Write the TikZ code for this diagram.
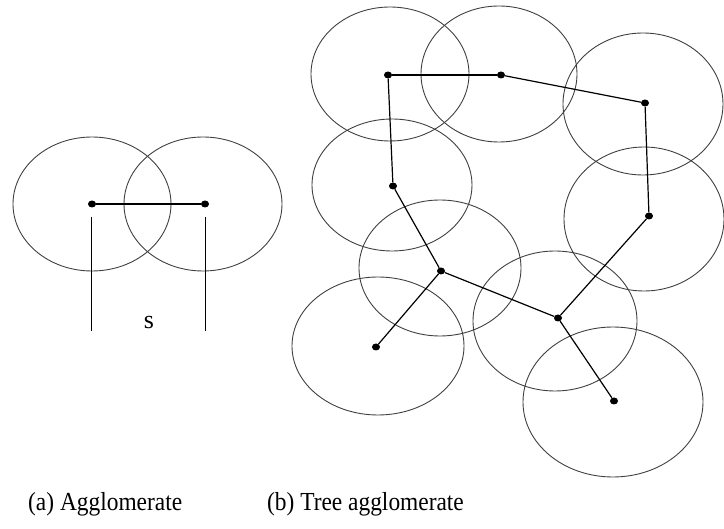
\documentclass[tikz,border=0pt]{standalone}
\usepackage{fontspec}
\usetikzlibrary{shapes.geometric}
\setmainfont{Liberation Serif}
\begin{document}
\begin{tikzpicture}[x=1pt,y=-1pt,
  circ/.style={draw=black!75,line width=0.9pt},
  edge/.style={draw=black,line width=1.2pt},
  dot/.style={ellipse,fill=black,inner sep=0pt,minimum width=8pt,minimum height=7pt},
  captext/.style={font=\fontsize{26}{30}\selectfont\addfontfeature{FakeStretch=0.9},inner sep=0pt}]
\useasboundingbox (0,0) rectangle (724,529);
% (a) Agglomerate
\draw[circ] (92,204) ellipse [x radius=79,y radius=67];
\draw[circ] (203,204) ellipse [x radius=79,y radius=67];
\node[dot] (l1) at (92,204) {};
\node[dot] (l2) at (205,204) {};
\draw[edge] (l1) -- (l2);
\coordinate (v1t) at (91,217); \coordinate (v1b) at (91,331);
\coordinate (v2t) at (205,217); \coordinate (v2b) at (205,331);
\draw[edge,line width=1pt] (v1t) -- (v1b);
\draw[edge,line width=1pt] (v2t) -- (v2b);
\node[font=\fontsize{26}{30}\selectfont,inner sep=0pt] (s) at (149,323) {s};
% (b) Tree agglomerate
\draw[circ] (390,74) ellipse [x radius=79,y radius=67];
\draw[circ] (499,74) ellipse [x radius=78,y radius=68];
\draw[circ] (643,104) ellipse [x radius=80,y radius=71];
\draw[circ] (392,185) ellipse [x radius=80,y radius=66];
\draw[circ] (644,219) ellipse [x radius=80,y radius=72];
\draw[circ] (440,268) ellipse [x radius=81,y radius=68];
\draw[circ] (378,346) ellipse [x radius=86,y radius=69];
\draw[circ] (555,321) ellipse [x radius=82,y radius=70];
\draw[circ] (613,402) ellipse [x radius=90,y radius=75];
\node[dot] (A) at (388,75) {};
\node[dot] (B) at (501,75) {};
\node[dot] (C) at (645,103) {};
\node[dot] (D) at (393,186) {};
\node[dot] (E) at (649,216) {};
\node[dot] (F) at (441,271) {};
\node[dot] (G) at (376,347) {};
\node[dot] (H) at (558,318) {};
\node[dot] (I) at (614,401) {};
\draw[edge] (A) -- (B);
\draw[edge] (B) -- (C);
\draw[edge] (C) -- (E);
\draw[edge] (A) -- (D);
\draw[edge] (D) -- (F);
\draw[edge] (F) -- (G);
\draw[edge] (F) -- (H);
\draw[edge] (H) -- (E);
\draw[edge] (H) -- (I);
% captions
\node[captext,anchor=west] (capa) at (28,504) {(a) Agglomerate};
\node[captext,anchor=west] (capb) at (267,504) {(b) Tree agglomerate};
\end{tikzpicture}
\end{document}
